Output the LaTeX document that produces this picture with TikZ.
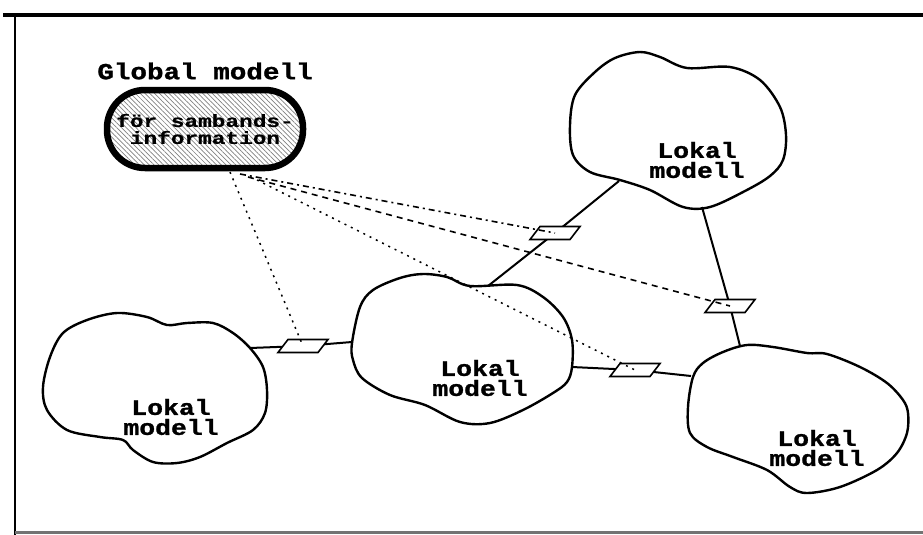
\documentclass[tikz,border=0pt]{standalone}
\usepackage{fontspec}
\newfontfamily\labelfont{Liberation Mono}[UprightFont={* Bold}, FakeStretch=1.2, FakeBold=1.2]
\newfontfamily\boxfont{Liberation Mono}[UprightFont={* Bold}, FakeStretch=1.3, FakeBold=0.6]
\usetikzlibrary{patterns.meta,calc}

\tikzset{
  cloud/.style={line width=2.4pt, line join=round},
  lbl/.style={font={\labelfont\fontsize{22pt}{20pt}\selectfont}, align=center, inner sep=0pt},
  iface/.style={draw, line width=1.6pt, fill=white, line join=miter},
  link/.style={line width=2pt},
  dashdotline/.style={line width=1.6pt, dash pattern=on 6pt off 4pt on 2pt off 4pt},
  dashline/.style={line width=1.6pt, dash pattern=on 6pt off 5pt},
  dotline/.style={line width=1.5pt, dash pattern=on 2pt off 5pt},
}

\begin{document}
\begin{tikzpicture}[x=1pt,y=-1pt]
\useasboundingbox (0,0) rectangle (923,535);

% frame
\draw[line width=3.5pt] (3,15) -- (923,15);
\draw[line width=2pt] (15,15) -- (15,535);
\draw[line width=3pt, black!55] (15,532) -- (923,532);

% global model
\node[lbl, font={\labelfont\fontsize{23pt}{20pt}\selectfont}] (title) at (205,71) {Global modell};
\node[draw, line width=6.5pt, rounded corners=38pt, minimum width=196pt, minimum height=78pt,
      pattern={Lines[angle=-45,distance=3.4pt,line width=0.7pt]}, pattern color=black!50,
      align=center, inner sep=0pt,
      font={\boxfont\fontsize{17.5pt}{17pt}\selectfont}] (glob) at (205,129)
      {för sambands-\\information};

% local models (clouds)
\draw[cloud] plot[smooth cycle, tension=0.55] coordinates {
  (570,125) (575,95) (595,72) (615,58) (640,52) (660,57) (687,68) (730,67)
  (760,80) (780,107) (786,135) (783,160) (770,176) (745,191) (710,207)
  (683,207) (650,190) (620,180) (590,172) (573,155)};
\draw[cloud] plot[smooth cycle, tension=0.55] coordinates {
  (352,343) (360,307) (373,290) (400,278) (423,274) (447,277) (470,286)
  (517,285) (543,297) (563,317) (572,340) (572,367) (567,382) (553,393)
  (523,410) (490,423) (460,422) (425,405) (390,395) (362,378) (353,360)};
\draw[cloud] plot[smooth cycle, tension=0.55] coordinates {
  (117,313) (147,317) (167,325) (187,323) (213,323) (233,333) (250,348)
  (263,367) (267,390) (265,413) (253,430) (227,443) (200,457) (177,463)
  (153,462) (133,450) (123,440) (100,437) (67,430) (47,410) (43,387)
  (50,357) (63,333) (87,320)};
\draw[cloud] plot[smooth cycle, tension=0.55] coordinates {
  (688,407) (693,377) (703,363) (723,352) (747,345) (773,347) (807,353)
  (827,354) (860,367) (887,383) (903,400) (908,413) (907,433) (897,453)
  (877,470) (840,487) (807,493) (790,487) (767,470) (733,457) (707,447)
  (690,433)};

% attachment points on the cloud outlines
\coordinate (l-e) at (250,348);
\coordinate (c-w) at (352,342);
\coordinate (c-n) at (488,286);
\coordinate (c-e) at (572,367);
\coordinate (tr-sw) at (619,181);
\coordinate (tr-s) at (702,207);
\coordinate (r-n) at (740,346);
\coordinate (r-w) at (691,376);

% interface positions
\coordinate (ifA) at (555,233);
\coordinate (ifB) at (730,306);
\coordinate (ifC) at (635,370);
\coordinate (ifD) at (303,346);

% links between local models through the interfaces
\draw[link] (c-n) -- (ifA) -- (tr-sw);
\draw[link] (tr-s) -- (ifB) -- (r-n);
\draw[link] (c-e) -- (ifC) -- (r-w);
\draw[link] (l-e) -- (ifD) -- (c-w);

% interface boxes (parallelograms)
\foreach \n in {ifA,ifB,ifC,ifD}
  \draw[iface] ($(\n)+(-15,-6.5)$) -- ++(40,0) -- ++(-10,13) -- ++(-40,0) -- cycle;

% connection information from the global model
\coordinate (g-d) at (230,172);
\coordinate (g-a) at (240,174);
\coordinate (g-b) at (248,177);
\coordinate (g-c) at (257,180);
\draw[dotline] (g-d) -- (ifD);
\draw[dashdotline] (g-a) -- (ifA);
\draw[dashline] (g-b) -- (ifB);
\draw[dotline] (g-c) -- (ifC);

% labels
\node[lbl] (lTR) at (697,160) {Lokal\\modell};
\node[lbl] (lC) at (480,378) {Lokal\\modell};
\node[lbl] (lL) at (171,417) {Lokal\\modell};
\node[lbl] (lR) at (817,448) {Lokal\\modell};
\end{tikzpicture}
\end{document}
